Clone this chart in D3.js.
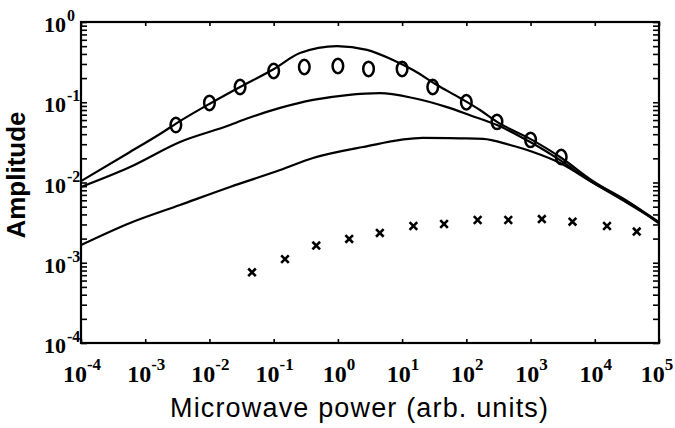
<!DOCTYPE html>
<html>
<head>
<meta charset="utf-8">
<script src="https://cdn.jsdelivr.net/npm/d3@7"></script>
<style>
body { margin: 0; background: #fff; }
svg { display: block; }
</style>
</head>
<body>
<svg class="Chart"></svg>
<script>
// decade ticks on both axes
let xTicks = [1e-4, 1e-3, 1e-2, 1e-1, 1e0, 1e1, 1e2, 1e3, 1e4, 1e5];
let yTicks = [1e-4, 1e-3, 1e-2, 1e-1, 1e0];

// upper solid curve
let topX = [1e-4, 5.8e-4, 1.9e-3, 3.1e-3, 1.06e-2, 3.0e-2, 0.101, 0.257, 0.97, 2.84, 7.2, 14.8, 34.9, 79.8, 163, 301, 1054, 2877, 9400, 31770, 1e5];
let topY = [0.0104, 0.024, 0.0426, 0.055, 0.098, 0.155, 0.26, 0.41, 0.50, 0.45, 0.336, 0.252, 0.164, 0.113, 0.080, 0.057, 0.034, 0.0208, 0.0104, 0.0059, 0.0032];

// middle solid curve
let midX = [1e-4, 5.8e-4, 3.48e-3, 2.09e-2, 3.33e-2, 0.126, 0.41, 1.39, 4.53, 14.8, 50, 114, 301, 1054, 2877, 9400, 31770, 1e5];
let midY = [0.0088, 0.0156, 0.032, 0.052, 0.060, 0.085, 0.107, 0.123, 0.130, 0.113, 0.087, 0.069, 0.052, 0.031, 0.019, 0.0100, 0.0058, 0.0031];

// lower solid curve
let lowX = [1e-4, 5.8e-4, 3.48e-3, 2.09e-2, 0.126, 0.41, 2.46, 21.1, 79.8, 182, 479, 1090, 2877, 9400, 31770, 1e5];
let lowY = [1.66e-3, 3.13e-3, 5.25e-3, 8.8e-3, 0.0143, 0.0202, 0.0277, 0.0359, 0.0355, 0.035, 0.0293, 0.024, 0.0175, 0.0099, 0.0056, 0.0032];

// open circles
let circX = [3e-3, 1e-2, 3e-2, 0.1, 0.3, 1, 3, 10, 30, 100, 300, 1000, 3000];
let circY = [0.052, 0.098, 0.155, 0.245, 0.275, 0.283, 0.26, 0.26, 0.155, 0.10, 0.057, 0.034, 0.0208];

// crosses
let crossX = [0.046, 0.15, 0.46, 1.5, 4.5, 15, 45, 150, 450, 1500, 4500, 15500, 45000];
let crossY = [7.6e-4, 1.11e-3, 1.64e-3, 1.98e-3, 2.35e-3, 2.87e-3, 3.04e-3, 3.41e-3, 3.41e-3, 3.5e-3, 3.25e-3, 2.87e-3, 2.45e-3];

function drawChart(){
    let width = 675, height = 428;
    let margin = {top: 22, right: 16, bottom: 85, left: 81};
    let w = width - margin.left - margin.right,
        h = height - margin.top - margin.bottom;

    let svg = d3.select(".Chart")
        .attr("width", width)
        .attr("height", height);
    let g = svg.append("g")
        .attr("transform", "translate(" + margin.left + "," + margin.top + ")");

    let x = d3.scaleLog().domain([1e-4, 1e5]).range([0, w]);
    let y = d3.scaleLog().domain([1e-4, 1e0]).range([h, 0]);

    // ticks point inward on all four sides
    g.append("g")
        .attr("transform", "translate(0," + h + ")")
        .call(d3.axisBottom(x).tickValues(xTicks).tickSize(-4).tickSizeOuter(0).tickFormat(""));
    g.append("g")
        .call(d3.axisTop(x).tickValues(xTicks).tickSize(-4).tickSizeOuter(0).tickFormat(""));
    g.append("g")
        .call(d3.axisLeft(y).tickValues(y.ticks()).tickSize(-6).tickSizeOuter(0).tickFormat(""));
    g.append("g")
        .attr("transform", "translate(" + w + ",0)")
        .call(d3.axisRight(y).tickValues(y.ticks()).tickSize(-6).tickSizeOuter(0).tickFormat(""));
    g.selectAll(".tick line").attr("stroke", "#000").attr("stroke-width", 1.6);
    g.selectAll(".domain").remove();

    g.append("rect")
        .attr("width", w)
        .attr("height", h)
        .attr("fill", "none")
        .attr("stroke", "#000")
        .attr("stroke-width", 2.2);

    let exp = d => Math.round(Math.log10(d));

    // x tick labels, 10 with a raised exponent
    let xl = g.selectAll(".xlab")
        .data(xTicks)
        .join("text")
        .attr("class", "xlab")
        .attr("x", d => Math.min(x(d) + 1, w - 2))
        .attr("y", h + 39)
        .attr("text-anchor", "middle")
        .style("font-family", "'Liberation Serif', 'Times New Roman', serif")
        .style("font-size", "24px")
        .style("font-weight", "bold");
    xl.append("tspan").text("10");
    xl.append("tspan").attr("dy", -12).style("font-size", "17px").text(d => exp(d));

    // y tick labels
    g.selectAll(".ylab")
        .data(yTicks)
        .join("text")
        .attr("class", "ylab")
        .attr("x", -15)
        .attr("y", d => y(d) + 10)
        .attr("text-anchor", "end")
        .style("font-family", "'Liberation Serif', 'Times New Roman', serif")
        .style("font-size", "22px")
        .style("font-weight", "bold")
        .text("10");
    g.selectAll(".yexp")
        .data(yTicks)
        .join("text")
        .attr("class", "yexp")
        .attr("x", -14)
        .attr("y", d => y(d) - 1)
        .style("font-family", "'Liberation Serif', 'Times New Roman', serif")
        .style("font-size", "16px")
        .style("font-weight", "bold")
        .text(d => exp(d));

    // curves
    let line = d3.line()
        .x(d => x(d[0]))
        .y(d => y(d[1]))
        .curve(d3.curveMonotoneX);
    let curves = [d3.zip(topX, topY), d3.zip(midX, midY), d3.zip(lowX, lowY)];
    g.selectAll(".curve")
        .data(curves)
        .join("path")
        .attr("class", "curve")
        .attr("d", line)
        .attr("fill", "none")
        .attr("stroke", "#000")
        .attr("stroke-width", 2.2);

    g.selectAll(".circ")
        .data(d3.zip(circX, circY))
        .join("ellipse")
        .attr("class", "circ")
        .attr("cx", d => x(d[0]))
        .attr("cy", d => y(d[1]))
        .attr("rx", 5.3)
        .attr("ry", 7.2)
        .attr("fill", "none")
        .attr("stroke", "#000")
        .attr("stroke-width", 2.5);

    g.selectAll(".cross")
        .data(d3.zip(crossX, crossY))
        .join("path")
        .attr("class", "cross")
        .attr("transform", d => "translate(" + x(d[0]) + "," + y(d[1]) + ")")
        .attr("d", "M-3.8,-3.8L3.8,3.8M-3.8,3.8L3.8,-3.8")
        .attr("stroke", "#000")
        .attr("stroke-width", 2.6);

    // axis titles
    svg.append("text")
        .attr("x", 359)
        .attr("y", 417)
        .attr("text-anchor", "middle")
        .attr("textLength", 378)
        .attr("lengthAdjust", "spacing")
        .style("font-family", "'Liberation Sans', Arial, sans-serif")
        .style("font-size", "27px")
        .text("Microwave power (arb. units)");

    svg.append("text")
        .attr("transform", "translate(25,175)rotate(-90)")
        .attr("text-anchor", "middle")
        .style("font-family", "'Liberation Sans', Arial, sans-serif")
        .style("font-size", "26px")
        .style("font-weight", "bold")
        .text("Amplitude");
}

drawChart();
</script>
</body>
</html>
